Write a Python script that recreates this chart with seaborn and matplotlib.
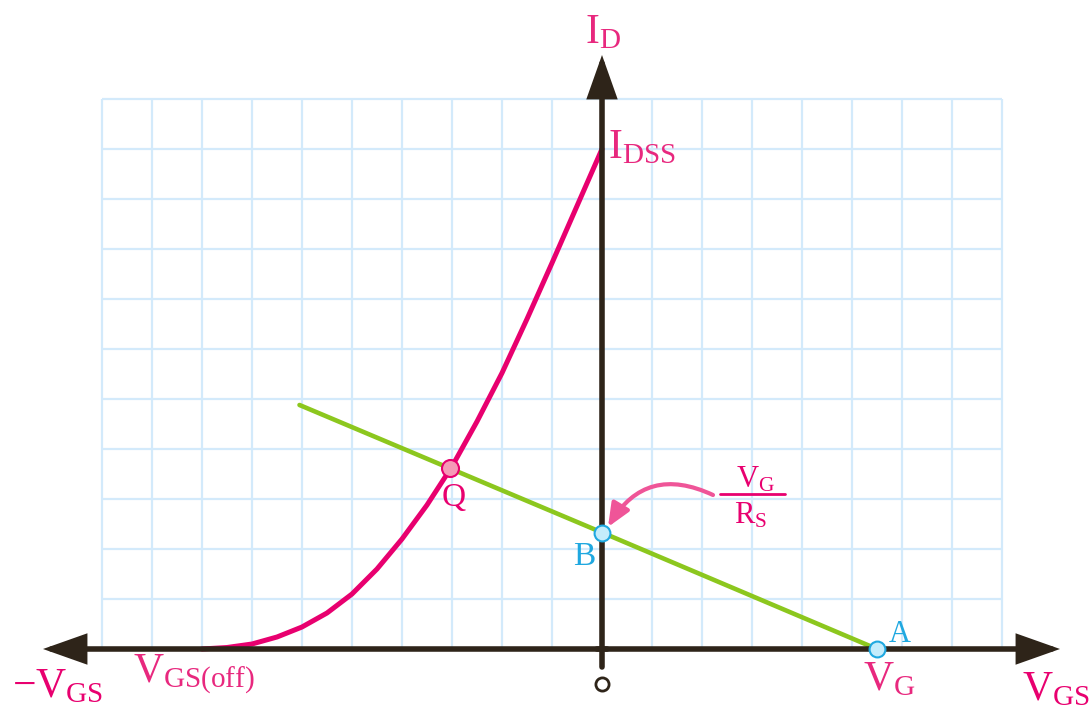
import numpy as np
import pandas as pd
import matplotlib
matplotlib.use("Agg")
import matplotlib.pyplot as plt
import seaborn as sns

# transfer curve (VGS in grid units, ID in grid units)
vgs_curve = [-8, -7.5, -7, -6.5, -6, -5.5, -5, -4.5, -4, -3.5, -3, -2.5, -2, -1.5, -1, -0.5, 0]
id_curve = [0, 0.03, 0.1, 0.24, 0.44, 0.72, 1.1, 1.6, 2.2, 2.88, 3.65, 4.55, 5.52, 6.6, 7.72, 8.86, 10.0]

# bias (load) line
vgs_bias = [-6.05, 0, 5.5]
id_bias = [4.88, 2.33, 0]

# labelled points
q_point = (-3.04, 3.62)
b_point = (0, 2.33)
a_point = (5.5, 0)

grid_x = list(range(-10, 9))
grid_y = list(range(0, 12))

PINK = "#e8006f"
PINK_TXT = "#e8287e"
GREEN = "#8cc71e"
CYAN = "#1fa8e0"
AXIS = "#2e2419"
GRID = "#d3eafb"

sns.set_theme(style="white")
plt.rcParams["mathtext.fontset"] = "custom"
plt.rcParams["mathtext.rm"] = "Liberation Serif"
plt.rcParams["mathtext.it"] = "Liberation Serif:italic"
plt.rcParams["font.family"] = ["Liberation Serif", "DejaVu Serif"]

fig = plt.figure(figsize=(10.91, 7.11), dpi=100)
ax = fig.add_axes([0, 0, 1, 1])
ax.set_xlim(-12.04, 9.78)
ax.set_ylim(-1.24, 12.98)
ax.axis("off")

# graph paper
ax.vlines(grid_x, 0, grid_y[-1], color=GRID, lw=1.6, zorder=0)
ax.hlines(grid_y, grid_x[0], grid_x[-1], color=GRID, lw=1.6, zorder=0)

# curves
curve = pd.DataFrame({"VGS": vgs_curve, "ID": id_curve})
bias = pd.DataFrame({"VGS": vgs_bias, "ID": id_bias})
sns.lineplot(data=curve, x="VGS", y="ID", ax=ax, color=PINK, lw=3.6, sort=False,
             estimator=None, solid_capstyle="round", solid_joinstyle="round", zorder=3)
sns.lineplot(data=bias, x="VGS", y="ID", ax=ax, color=GREEN, lw=3.3, sort=False,
             estimator=None, solid_capstyle="round", zorder=2)

# axes with arrows
arrow = dict(arrowstyle="-|>,head_length=2.4,head_width=0.85", color=AXIS, lw=4,
             mutation_scale=10, shrinkA=0, shrinkB=0, joinstyle="miter")
ax.annotate("", xy=(9.16, 0), xytext=(-0.1, 0), arrowprops=arrow, zorder=4)
ax.annotate("", xy=(-11.18, 0), xytext=(0.1, 0), arrowprops=arrow, zorder=4)
ax.annotate("", xy=(0, 11.88), xytext=(0, -0.36), arrowprops=arrow, zorder=4)

# origin mark
ax.scatter([0], [-0.7], s=90, facecolor="white", edgecolor=AXIS, lw=2, zorder=5)

# points
ax.scatter([q_point[0]], [q_point[1]], s=150, facecolor="#f59ab7", edgecolor=PINK, lw=1.5, zorder=6)
ax.scatter([b_point[0], a_point[0]], [b_point[1], a_point[1]], s=130, facecolor="#c4ecfb",
           edgecolor=CYAN, lw=1.5, zorder=6)

# curved pointer to B
ax.annotate("", xy=(0.12, 2.44), xytext=(2.22, 3.08),
            arrowprops=dict(arrowstyle="-|>,head_length=1.4,head_width=0.6", color="#ef5598",
                            lw=3, mutation_scale=10, shrinkA=0, shrinkB=0,
                            connectionstyle="arc3,rad=0.45"), zorder=5)

# labels
big = 30
ax.text(-0.34, 12.12, r"$\mathrm{I}_{\mathrm{D}}$", color=PINK_TXT, fontsize=big, va="baseline")
ax.text(0.12, 9.82, r"$\mathrm{I}_{\mathrm{DSS}}$", color=PINK_TXT, fontsize=big, va="baseline")
ax.text(-11.8, -0.96, "$\\mathrm{\u2212V}_{\\mathrm{GS}}$", color=PINK, fontsize=big, va="baseline")
ax.text(-9.38, -0.66, r"$\mathrm{V}_{\mathrm{GS(off)}}$", color=PINK_TXT, fontsize=big, va="baseline")
ax.text(5.22, -0.82, r"$\mathrm{V}_{\mathrm{G}}$", color=PINK_TXT, fontsize=big, va="baseline")
ax.text(8.4, -1.02, r"$\mathrm{V}_{\mathrm{GS}}$", color=PINK, fontsize=big, va="baseline")
ax.text(5.74, 0.14, "A", color=CYAN, fontsize=22, va="baseline")
ax.text(-0.58, 1.68, "B", color=CYAN, fontsize=24, va="baseline")
ax.text(-3.2, 2.86, "Q", color=PINK, fontsize=24, va="baseline")
ax.text(2.68, 3.22, r"$\mathrm{V}_{\mathrm{G}}$", color=PINK, fontsize=22, va="baseline")
ax.plot([2.36, 3.66], [3.1, 3.1], color=PINK, lw=2)
ax.text(2.64, 2.52, r"$\mathrm{R}_{\mathrm{S}}$", color=PINK, fontsize=22, va="baseline")

fig.savefig("out.png", dpi=100)
